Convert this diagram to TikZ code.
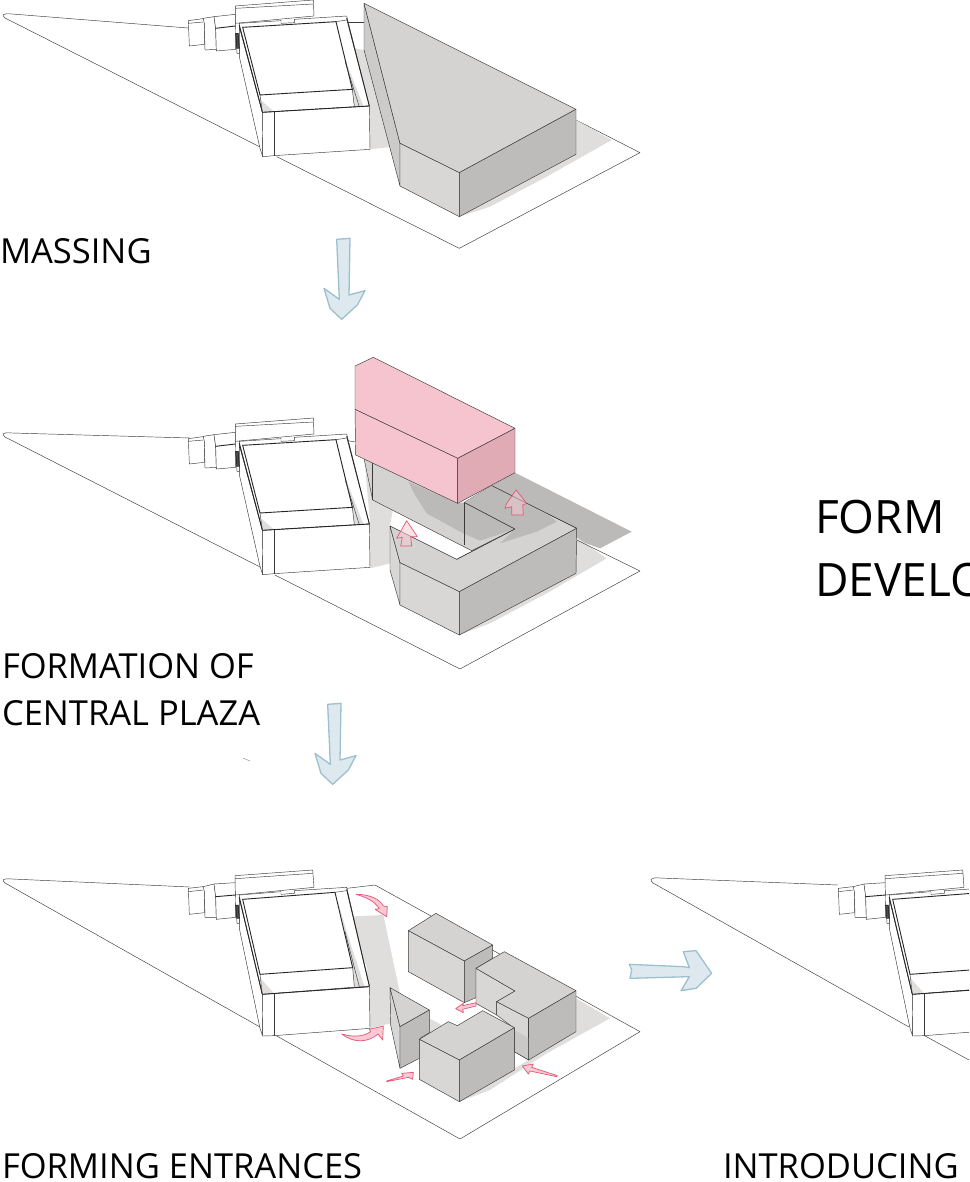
\documentclass[tikz,border=0pt]{standalone}
\usepackage{fontspec}
\setmainfont{Open Sans}
\definecolor{roofg}{HTML}{D5D3D1}
\definecolor{frontg}{HTML}{D9D7D5}
\definecolor{sideg}{HTML}{BDBCBA}
\definecolor{gshadow}{HTML}{DFDEDD}
\definecolor{dshadow}{HTML}{BBBAB8}
\definecolor{pinktop}{HTML}{F5C4CE}
\definecolor{pinkside}{HTML}{E0ABB5}
\definecolor{redline}{HTML}{E2577A}
\definecolor{redfill}{HTML}{F8C9D3}
\definecolor{bluefill}{HTML}{DDE9EE}
\definecolor{blueline}{HTML}{9DC0CE}
\definecolor{inkline}{HTML}{3A3A3A}
\tikzset{
  ink/.style={draw=inkline,line width=0.45pt,line join=round},
  heavy/.style={draw=black!85,line width=0.9pt},
  rooff/.style={ink,fill=roofg},
  frontf/.style={ink,fill=frontg},
  sidef/.style={ink,fill=sideg},
  whitebox/.style={ink,fill=white},
  redarrow/.style={draw=redline,line width=0.7pt,fill=redfill,line join=round},
  bluearrow/.style={draw=blueline,line width=1.3pt,fill=bluefill,line join=round},
  lbl/.style={anchor=base west,inner sep=0pt,outer sep=0pt,text=black,font=\fontsize{34.5}{34.5}\selectfont},
  biglbl/.style={anchor=base west,inner sep=0pt,outer sep=0pt,text=black,font=\fontsize{46}{46}\selectfont},
  zoomed/.style={x=0.33333pt,y=-0.33333pt}
}
% existing building as drawn in the upper two rows
\newcommand{\oldbldg}[2]{%
\begin{scope}[shift={(#1pt,-#2pt)},zoomed]
  \path[whitebox] (55,62) -- (98,56) -- (103,60) -- (103,133) -- (58,138) -- cycle;
  \path[whitebox] (100,55) -- (132,50) -- (137,85) -- (139,148) -- (105,150) -- (103,70) -- cycle;
  \path[whitebox] (132,50) -- (196,43) -- (197,148) -- (139,153) -- (137,85) -- cycle;
  \draw[heavy] (137,85) -- (196,78);
  \draw[ink] (55,70) -- (100,66);
  \path[whitebox] (196,18) -- (430,0) -- (432,48) -- (196,70) -- cycle;
  \draw[ink] (197,25) -- (430,12);
  \path[whitebox] (208,170) -- (270,445) -- (278,470) -- (277,337) -- (208,80) -- cycle;
  \path[whitebox] (208,70) -- (333,62) -- (333,70) -- (373,68) -- (373,58) -- (530,48) -- (598,318) -- (277,337) -- (208,80) -- cycle;
  \fill[gshadow] (498,75) -- (530,190) -- (580,318) -- (553,320) -- (547,268) -- cycle;
  \fill[gshadow] (272,300) -- (312,335) -- (278,335) -- cycle;
  \draw[heavy] (218,82) -- (498,65) -- (547,268) -- (270,285) -- cycle;
  \draw[heavy] (208,76) -- (277,335);
  \draw[heavy] (530,55) -- (598,318);
  \draw[ink] (498,65) -- (530,60);
  \draw[ink] (547,268) -- (553,320);
  \draw[ink] (525,185) -- (568,320);
  \draw[ink] (270,285) -- (277,337);
  \path[whitebox] (277,337) -- (598,318) -- (600,448) -- (312,467) -- (278,470) -- cycle;
  \draw[heavy] (277,337) -- (598,318);
  \draw[ink] (312,337) -- (312,467);
  \path[draw=black,line width=0.5pt,fill=black!70] (197,100) -- (205,100) -- (208,145) -- (200,145) -- cycle;
  \path[whitebox] (200,145) -- (208,145) -- (208,160) -- (201,160) -- cycle;
\end{scope}}
% existing building as drawn in the lower row, slightly steeper
\newcommand{\oldbldglow}[1]{%
\begin{scope}[shift={(#1pt,-860pt)},zoomed]
  \path[whitebox] (55,85) -- (98,80) -- (103,84) -- (103,158) -- (58,163) -- cycle;
  \path[whitebox] (100,80) -- (132,72) -- (137,105) -- (139,172) -- (105,172) -- (103,95) -- cycle;
  \path[whitebox] (132,72) -- (196,68) -- (197,172) -- (139,178) -- (137,110) -- cycle;
  \draw[heavy] (137,110) -- (196,105);
  \draw[ink] (55,95) -- (100,90);
  \path[whitebox] (195,47) -- (428,30) -- (432,82) -- (196,105) -- cycle;
  \draw[ink] (196,56) -- (428,40);
  \path[whitebox] (208,205) -- (270,505) -- (278,528) -- (277,403) -- (208,115) -- cycle;
  \path[whitebox] (208,105) -- (333,95) -- (333,103) -- (373,100) -- (373,92) -- (530,82) -- (598,378) -- (277,403) -- (208,115) -- cycle;
  \fill[gshadow] (498,105) -- (530,215) -- (583,378) -- (553,380) -- (548,323) -- cycle;
  \fill[gshadow] (272,355) -- (312,400) -- (278,402) -- cycle;
  \draw[heavy] (218,118) -- (495,97) -- (548,323) -- (270,343) -- cycle;
  \draw[heavy] (208,112) -- (277,403);
  \draw[heavy] (530,88) -- (598,378);
  \draw[ink] (495,97) -- (530,92);
  \draw[ink] (548,323) -- (553,380);
  \draw[ink] (525,215) -- (568,380);
  \draw[ink] (270,343) -- (277,403);
  \path[whitebox] (277,403) -- (598,380) -- (600,505) -- (312,527) -- (278,528) -- cycle;
  \draw[heavy] (277,403) -- (598,380);
  \draw[ink] (312,403) -- (312,527);
  \path[draw=black,line width=0.5pt,fill=black!70] (197,135) -- (205,135) -- (208,175) -- (200,175) -- cycle;
  \path[whitebox] (200,175) -- (208,175) -- (208,190) -- (201,190) -- cycle;
\end{scope}}
\begin{document}
\begin{tikzpicture}[x=1pt,y=-1pt]
\useasboundingbox (0,0) rectangle (969,1182);
\clip (0,0) rectangle (969,1182);
\fill[white] (0,0) rectangle (969,1182);

%%%%% ROW 1
\draw[ink] (188,28) -- (12,14) .. controls (3,13) and (1,15) .. (5,18) -- (262,148);
\begin{scope}[shift={(170pt,0pt)},zoomed]
  \draw[ink] (320,470) -- (868,745) -- (1410,458) -- (1218,360);
  \draw[ink] (530,68) -- (582,68);
  \fill[gshadow] (1218,360) -- (1325,420) -- (1130,530) -- (960,620) -- (868,650) -- (1218,463) -- cycle;
  \fill[gshadow] (555,145) -- (582,150) -- (670,440) -- (600,448) -- (590,320) -- cycle;
\end{scope}
\oldbldg{170}{0}
\begin{scope}[shift={(170pt,0pt)},zoomed]
  \path[ink,fill=roofg!96!black] (582,10) -- (690,430) -- (690,558) -- (582,150) -- cycle;
  \path[rooff] (582,10) -- (1218,328) -- (868,518) -- (690,430) -- cycle;
  \path[frontf] (690,430) -- (868,518) -- (868,650) -- (690,558) -- cycle;
  \path[sidef] (868,518) -- (1218,328) -- (1218,463) -- (868,650) -- cycle;
\end{scope}

%%%%% ROW 2
\draw[ink] (190,438) -- (12,433) .. controls (3,432) and (1,434) .. (5,437) -- (260,567);
\begin{scope}[shift={(170pt,-340pt)},zoomed]
  \fill[dshadow] (1035,398) -- (1385,575) -- (1290,625) -- (1220,600) -- (965,437) -- cycle;
  \fill[gshadow] (1218,590) -- (1310,655) -- (1130,760) -- (960,850) -- (868,885) -- (1218,700) -- cycle;
  \draw[ink] (1220,600) -- (1410,693) -- (870,987) -- (315,705);
  \draw[ink] (533,302) -- (556,306);
  \fill[gshadow] (585,380) -- (608,480) -- (668,512) -- (660,558) -- (660,670) -- (600,685) -- (600,545) -- cycle;
\end{scope}
\oldbldg{170}{418}
\begin{scope}[shift={(170pt,-340pt)},zoomed]
  % upper arm of the U, under the lifted volume
  \path[fill=roofg] (582,355) -- (608,480) -- (905,632) -- (1035,567) -- (883,487) -- (863,490) -- cycle;
  \fill[dshadow] (715,425) -- (735,465) -- (770,520) -- (880,580) -- (930,602) -- (1035,567) -- (883,487) -- (863,490) -- cycle;
  \draw[ink] (582,355) -- (608,480) -- (905,632) -- (1035,567) -- (883,487);
  \draw[ink] (608,370) -- (608,480);
  \draw[ink] (883,490) -- (883,615);
  % lower and right arms
  \path[ink,fill=frontg] (660,558) -- (690,668) -- (690,795) -- (660,690) -- cycle;
  \path[rooff] (965,437) -- (1220,565) -- (868,755) -- (690,668) -- (660,558) -- (860,658) -- (1035,567) -- (883,487) -- cycle;
  \fill[dshadow] (883,487) -- (965,437) -- (1130,520) -- (1160,545) -- (1100,575) -- (990,610) -- (1035,567) -- cycle;
  \draw[ink] (883,487) -- (1035,567) -- (860,658);
  \draw[ink] (965,437) -- (1220,565);
  \path[frontf] (690,668) -- (868,755) -- (868,885) -- (690,795) -- cycle;
  \path[sidef] (868,755) -- (1220,565) -- (1218,700) -- (868,885) -- cycle;
  % lifted volume
  \path[ink,fill=pinktop] (555,78) -- (610,52) -- (1035,265) -- (863,355) -- (555,208) -- cycle;
  \path[ink,fill=pinktop] (555,208) -- (863,355) -- (863,490) -- (557,345) -- cycle;
  \path[ink,fill=pinkside] (863,355) -- (1035,265) -- (1035,398) -- (863,490) -- cycle;
  % red lift arrows
  \path[redarrow,fill opacity=0.5] (710,542) -- (742,590) -- (722,590) -- (725,618) -- (692,618) -- (697,592) -- (680,595) -- cycle;
  \path[redarrow,fill opacity=0.5] (1038,450) -- (1070,490) -- (1058,495) -- (1060,525) -- (1025,525) -- (1025,500) -- (1005,505) -- (1010,490) -- cycle;
\end{scope}

%%%%% ROW 3
\draw[ink] (190,887) -- (12,879) .. controls (3,878) and (1,880) .. (5,883) -- (260,1027);
\begin{scope}[shift={(170pt,-860pt)},zoomed]
  \draw[ink] (530,85) -- (615,75) -- (1410,515) -- (870,837) -- (315,525);
  \fill[gshadow] (1218,415) -- (1320,475) -- (1130,580) -- (960,690) -- (868,725) -- (1218,515) -- cycle;
  \fill[gshadow] (778,475) -- (815,495) -- (780,518) -- cycle;
  \fill[gshadow] (530,170) -- (640,165) -- (690,400) -- (660,383) -- (662,490) -- (600,505) -- (590,320) -- cycle;
\end{scope}
\oldbldglow{170}
\begin{scope}[shift={(170pt,-860pt)},zoomed]
  % block A
  \path[rooff] (715,212) -- (798,160) -- (968,255) -- (883,303) -- cycle;
  \path[frontf] (715,212) -- (883,303) -- (883,428) -- (715,335) -- cycle;
  \path[sidef] (883,303) -- (968,255) -- (968,295) -- (918,325) -- (918,413) -- (883,428) -- cycle;
  % block B
  \path[frontf] (918,325) -- (1035,393) -- (980,425) -- (980,465) -- (918,430) -- cycle;
  \path[frontf] (980,425) -- (1076,475) -- (1076,600) -- (1033,575) -- (1033,505) -- (980,465) -- cycle;
  \path[rooff] (918,325) -- (1003,275) -- (1218,392) -- (1076,475) -- (980,425) -- (1035,393) -- cycle;
  \path[sidef] (1076,475) -- (1218,392) -- (1218,515) -- (1076,600) -- cycle;
  \fill[sideg!80!white] (1033,510) -- (1076,535) -- (1076,600) -- (1033,575) -- cycle;
  \draw[ink] (1033,505) -- (1033,575) -- (1076,600) -- (1076,475);
  % triangle block
  \path[ink,fill=frontg] (660,383) -- (690,500) -- (690,625) -- (662,495) -- cycle;
  \path[rooff] (660,383) -- (778,450) -- (690,500) -- cycle;
  \path[sidef] (690,500) -- (778,450) -- (778,518) -- (750,535) -- (748,595) -- (690,625) -- cycle;
  % block C
  \path[rooff] (748,538) -- (835,485) -- (862,497) -- (938,452) -- (1033,503) -- (868,600) -- cycle;
  \path[frontf] (748,538) -- (868,600) -- (868,725) -- (748,658) -- cycle;
  \path[sidef] (868,600) -- (1033,503) -- (1033,630) -- (868,725) -- cycle;
  % red arrows
  \path[redarrow] (558,103) .. controls (605,103) and (630,120) .. (640,138) -- (652,140) -- (650,170) -- (615,148) -- (628,146) .. controls (615,125) and (590,112) .. (558,103) -- cycle;
  \path[redarrow] (515,522) .. controls (550,532) and (580,530) .. (602,515) -- (598,508) -- (640,498) -- (638,540) -- (624,522) .. controls (595,548) and (550,550) .. (515,522) -- cycle;
  \path[redarrow] (918,428) -- (878,437) -- (880,430) -- (857,446) -- (880,458) -- (878,448) -- (918,438) -- cycle;
  \path[redarrow] (650,663) -- (700,648) -- (695,640) -- (730,637) -- (728,658) -- (715,652) -- (650,665) -- cycle;
  \path[redarrow] (1162,647) -- (1085,622) -- (1090,612) -- (1057,618) -- (1075,642) -- (1080,633) -- (1160,650) -- cycle;
\end{scope}

%%%%% ROW 4
\draw[ink] (838,885) -- (660,878) .. controls (651,877) and (649,880) .. (653,883) -- (909,1027);
\begin{scope}[shift={(620pt,-860pt)},zoomed]
  \draw[ink] (910,525) -- (1047,600);
\end{scope}
\oldbldglow{820}

%%%%% BLUE ARROWS
\begin{scope}[shift={(300pt,-230pt)},zoomed]
  \path[bluearrow] (110,28) -- (150,25) -- (147,195) -- (195,182) -- (172,225) -- (125,268) -- (90,235) -- (72,175) -- (118,208) -- cycle;
\end{scope}
\begin{scope}[shift={(291pt,-695pt)},zoomed]
  \path[bluearrow] (110,28) -- (150,25) -- (147,195) -- (195,182) -- (172,225) -- (125,268) -- (90,235) -- (72,175) -- (118,208) -- cycle;
\end{scope}
\begin{scope}[shift={(620pt,-860pt)},zoomed]
  \path[bluearrow] (28,313) -- (190,320) -- (208,323) -- (190,275) -- (228,272) -- (275,340) -- (228,385) -- (183,392) -- (208,350) -- (30,355) -- (35,330) -- cycle;
\end{scope}

\draw[black!50,line width=0.4pt] (243,758) -- (250,761);

%%%%% TEXT
\node[lbl] (massing) at (0,263) {MASSING};
\node[lbl] (form1) at (2,678) {FORMATION OF};
\node[lbl] (form2) at (2,725) {CENTRAL PLAZA};
\node[lbl] (entr) at (2,1178) {FORMING ENTRANCES};
\node[lbl] (intro) at (723,1178) {INTRODUCING};
\node[biglbl] (fd1) at (815,533) {FORM};
\node[biglbl] (fd2) at (815,596) {DEVELO};
\end{tikzpicture}
\end{document}
